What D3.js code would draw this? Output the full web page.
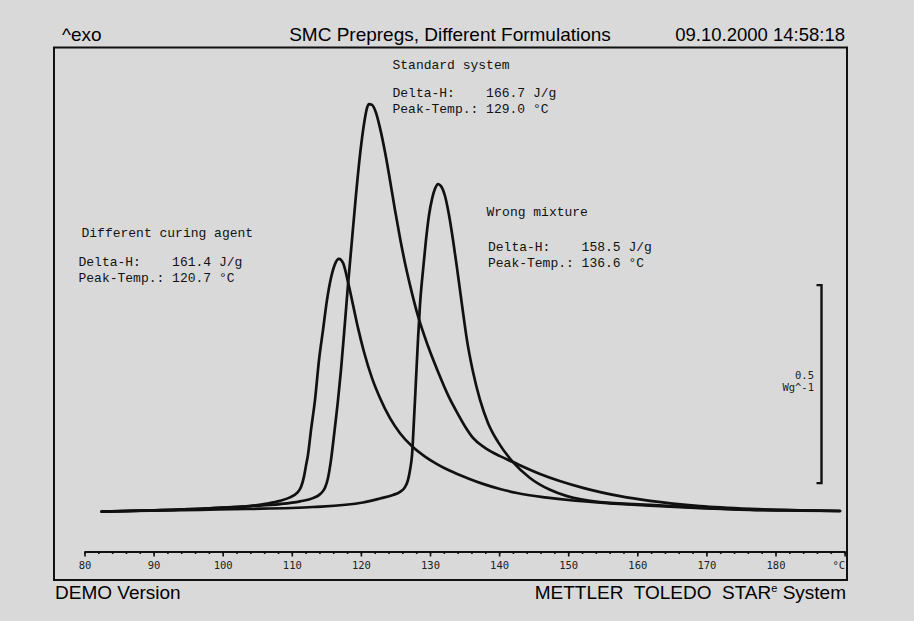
<!DOCTYPE html>
<html><head><meta charset="utf-8">
<script src="https://cdn.jsdelivr.net/npm/d3@7/dist/d3.min.js"></script>
<style>html,body{margin:0;padding:0;background:#d9d9d9;} svg{display:block}</style>
</head><body>
<svg id="c" width="914" height="621"></svg>
<script>
// Temperature in °C, heat flow in W/g (relative, exo up)
const differentCuringAgent = [[82.49,0.001],[89.48,0.004],[96.71,0.008],[100.04,0.011],[103.95,0.015],[106.41,0.021],[108.29,0.028],[109.74,0.037],[110.75,0.048],[111.33,0.063],[111.77,0.090],[112.05,0.117],[112.34,0.144],[112.78,0.207],[113.36,0.283],[113.94,0.384],[114.52,0.460],[115.09,0.535],[115.67,0.591],[116.25,0.626],[116.83,0.639],[117.41,0.629],[118.13,0.581],[118.86,0.523],[119.58,0.465],[120.45,0.404],[121.61,0.338],[122.76,0.288],[124.21,0.237],[125.66,0.199],[127.40,0.166],[129.28,0.140],[131.01,0.121],[132.89,0.104],[135.35,0.086],[137.67,0.071],[140.13,0.058],[142.59,0.048],[146.64,0.037],[150.69,0.029],[156.05,0.022],[161.84,0.016],[169.07,0.010],[176.31,0.0055],[183.55,0.0035],[189.33,0.0025]];
const standardSystem = [[82.49,0.001],[89.48,0.004],[96.71,0.008],[100.04,0.011],[103.95,0.015],[108.29,0.020],[111.19,0.027],[113.07,0.035],[114.08,0.045],[114.80,0.061],[115.24,0.086],[115.67,0.131],[116.11,0.194],[116.69,0.283],[117.12,0.359],[117.70,0.480],[118.13,0.573],[118.71,0.687],[119.29,0.801],[119.87,0.902],[120.45,0.980],[120.88,1.020],[121.17,1.030],[121.61,1.028],[122.19,1.008],[122.76,0.970],[123.49,0.909],[124.21,0.838],[124.93,0.763],[125.66,0.692],[126.38,0.629],[127.11,0.573],[128.26,0.495],[129.71,0.419],[131.16,0.354],[132.61,0.295],[134.05,0.247],[135.21,0.212],[136.22,0.187],[137.96,0.162],[140.13,0.141],[142.01,0.126],[145.92,0.096],[152.14,0.061],[157.50,0.040],[161.84,0.028],[169.07,0.015],[176.31,0.008],[183.55,0.004],[189.33,0.0025]];
const wrongMixture = [[82.49,0.001],[89.48,0.0035],[96.71,0.0056],[103.52,0.0076],[113.07,0.0126],[120.30,0.024],[122.76,0.034],[124.65,0.043],[125.66,0.051],[126.38,0.063],[126.82,0.081],[127.11,0.106],[127.40,0.144],[127.68,0.232],[127.97,0.333],[128.26,0.434],[128.55,0.523],[128.99,0.611],[129.42,0.687],[129.86,0.750],[130.29,0.790],[130.72,0.816],[131.16,0.828],[131.59,0.823],[132.17,0.798],[132.75,0.750],[133.33,0.687],[133.91,0.616],[134.63,0.523],[135.35,0.434],[136.22,0.354],[137.24,0.283],[138.39,0.225],[139.84,0.177],[142.01,0.126],[144.47,0.086],[147.37,0.056],[149.83,0.040],[154.60,0.025],[161.84,0.018],[169.07,0.011],[176.31,0.006],[183.55,0.004],[189.33,0.0025]];

const tickValues = [80,90,100,110,120,130,140,150,160,170,180,190];
const tickLabels = ["80","90","100","110","120","130","140","150","160","170","180","°C"];
const minorTicks = d3.range(80, 191, 2);

const headerLeft = "^exo";
const headerTitle = "SMC Prepregs, Different Formulations";
const headerRight = "09.10.2000 14:58:18";
const footerLeft = "DEMO Version";

const labelStandard = ["Standard system", "Delta-H:    166.7 J/g", "Peak-Temp.: 129.0 °C"];
const labelCuring = ["Different curing agent", "Delta-H:    161.4 J/g", "Peak-Temp.: 120.7 °C"];
const labelWrong = ["Wrong mixture", "Delta-H:    158.5 J/g", "Peak-Temp.: 136.6 °C"];
const scaleBarValue = 0.5;
const scaleBarLabel = ["0.5", "Wg^-1"];

const svg = d3.select("#c");
const x = d3.scaleLinear().domain([80,190]).range([84.5,844.6]);
const y = d3.scaleLinear().domain([0,1]).range([512,116]);
const ink = "#111";

svg.append("rect").attr("width",914).attr("height",621).attr("fill","#d9d9d9");
svg.append("rect").attr("x",54).attr("y",47.5).attr("width",793).attr("height",532.5)
  .attr("fill","none").attr("stroke",ink).attr("stroke-width",2);

const sans = "'Liberation Sans', Arial, sans-serif";
const mono = "'Liberation Mono', 'Courier New', monospace";
const smallMono = "'DejaVu Sans Mono', monospace";

svg.append("text").attr("x",62).attr("y",41).attr("font-family",sans).attr("font-size",19).text(headerLeft);
svg.append("text").attr("x",450).attr("y",41).attr("text-anchor","middle").attr("font-family",sans).attr("font-size",19).text(headerTitle);
svg.append("text").attr("x",845).attr("y",41).attr("text-anchor","end").attr("font-family",sans).attr("font-size",18.5).text(headerRight);
svg.append("text").attr("x",55).attr("y",599).attr("font-family",sans).attr("font-size",19).text(footerLeft);
const ft = svg.append("text").attr("x",846).attr("y",599).attr("text-anchor","end").attr("font-family",sans).attr("font-size",19).style("white-space","pre");
ft.append("tspan").text("METTLER  TOLEDO  STAR");
ft.append("tspan").attr("font-size",11).attr("dy",-7).text("e");
ft.append("tspan").attr("dy",7).text(" System");

// axis
const axisY = 551.5;
const gMinor = svg.append("g").attr("transform",`translate(0,${axisY})`)
  .call(d3.axisBottom(x).tickValues(minorTicks).tickSize(2.5).tickSizeOuter(0).tickFormat(""));
const gMajor = svg.append("g").attr("transform",`translate(0,${axisY})`)
  .call(d3.axisBottom(x).tickValues(tickValues).tickSize(5).tickSizeOuter(0).tickPadding(5)
    .tickFormat((d,i)=>tickLabels[i]));
[gMinor,gMajor].forEach(g=>{
  g.select(".domain").attr("stroke",ink).attr("stroke-width",2);
  g.selectAll(".tick line").attr("stroke",ink).attr("stroke-width",1.6);
  g.selectAll("text").attr("font-family",smallMono).attr("font-size",10.5).attr("fill","#222");
});
gMajor.selectAll(".tick").filter(d=>d===190).select("text").attr("text-anchor","end").attr("dx",0);

// curves
const line = d3.line().x(d=>x(d[0])).y(d=>y(d[1])).curve(d3.curveMonotoneX);
[differentCuringAgent, standardSystem, wrongMixture].forEach(s=>{
  svg.append("path").attr("d",line(s)).attr("fill","none").attr("stroke",ink)
    .attr("stroke-width",2.7).attr("stroke-linejoin","round").attr("stroke-linecap","round");
});

// annotations
function block(lines, x0, x1, ys){
  lines.forEach((t,i)=>{
    svg.append("text").attr("x", i===0?x0:x1).attr("y",ys[i]).attr("font-family",mono)
      .attr("font-size",13).attr("fill","#111").style("white-space","pre").text(t);
  });
}
block(labelStandard, 392.5, 392.5, [69,97,113]);
block(labelCuring, 81.5, 78.5, [237,266,282]);
block(labelWrong, 486.5, 488, [216,251,267]);

// scale bar
const barX = 821.5, barBase = 0.073;
const yb = y(barBase), yt = y(barBase + scaleBarValue);
svg.append("path").attr("d",`M${barX-5},${yt}H${barX}V${yb}H${barX-5}`)
  .attr("fill","none").attr("stroke",ink).attr("stroke-width",2.4);
scaleBarLabel.forEach((t,i)=>{
  svg.append("text").attr("x",814).attr("y",(yt+yb)/2-5+i*12).attr("text-anchor","end")
    .attr("font-family",smallMono).attr("font-size",10.5).attr("fill","#222").text(t);
});
</script>
</body></html>
